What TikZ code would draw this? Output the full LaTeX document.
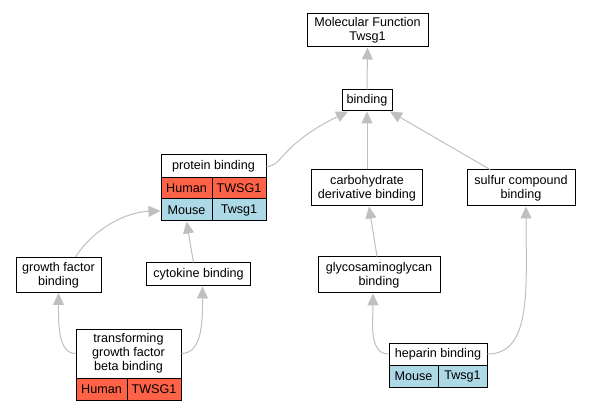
\documentclass[tikz,border=0pt]{standalone}
\usepackage{fontspec}
\setmainfont{Liberation Sans}
\usetikzlibrary{arrows.meta,calc}
\begin{document}
\begin{tikzpicture}[x=1pt,y=-1pt,
  every node/.style={font=\fontsize{12.6}{14}\selectfont},
  box/.style={draw=black,line width=1pt,fill=white,inner sep=0pt,align=center,text=black},
  human/.style={box,fill={rgb,255:red,255;green,99;blue,71}},
  mouse/.style={box,fill={rgb,255:red,173;green,216;blue,230}},
  edge/.style={draw={rgb,255:red,192;green,192;blue,192},line width=1pt,-{Triangle[length=12pt,width=11pt]}}]
\useasboundingbox (0,0) rectangle (591,411);
\fill[white] (0,0) rectangle (591,411);
% nodes
\node[box,minimum width=121pt,minimum height=33pt] (mf) at (367.5,30.5) {Molecular Function\\Twsg1};
\node[box,minimum width=50pt,minimum height=21pt] (bd) at (367,100.5) {binding};
\node[box,minimum width=105pt,minimum height=23pt] (pb) at (213.5,166.5) {protein binding};
\node[human,minimum width=51pt,minimum height=21pt] (pbh1) at (186.5,188.5) {Human};
\node[human,minimum width=54pt,minimum height=21pt] (pbh2) at (239,188.5) {TWSG1};
\node[mouse,minimum width=51pt,minimum height=22pt] (pbm1) at (186.5,210) {Mouse};
\node[mouse,minimum width=54pt,minimum height=22pt] (pbm2) at (239,210) {Twsg1};
\node[box,minimum width=111pt,minimum height=36pt] (cd) at (367,188) {carbohydrate\\derivative binding};
\node[box,minimum width=108pt,minimum height=36pt] (sc) at (521,188) {sulfur compound\\binding};
\node[box,minimum width=122pt,minimum height=36pt] (gl) at (379,275) {glycosaminoglycan\\binding};
\node[box,minimum width=98pt,minimum height=22pt] (hp) at (438,354) {heparin binding};
\node[mouse,minimum width=49pt,minimum height=22pt] (hpm1) at (413.5,376) {Mouse};
\node[mouse,minimum width=49pt,minimum height=22pt] (hpm2) at (462.5,376) {Twsg1};
\node[box,minimum width=85pt,minimum height=35pt] (gf) at (58.5,275) {growth factor\\binding};
\node[box,minimum width=104pt,minimum height=23pt] (ck) at (198.5,274.5) {cytokine binding};
\node[box,minimum width=105pt,minimum height=49pt] (tg) at (128.5,353.5) {transforming\\growth factor\\beta binding};
\node[human,minimum width=51pt,minimum height=22pt] (tgh1) at (101.5,389) {Human};
\node[human,minimum width=54pt,minimum height=22pt] (tgh2) at (154,389) {TWSG1};
% edges
\draw[edge] (bd.north) -- (mf.south);
\draw[edge] (pb.east) .. controls ($(pb.east)+(16,0)$) and ($(pb.east)+(14,-22)$) .. ($(bd.south)+(-19,0)$);
\draw[edge] (cd.north) -- (bd.south);
\draw[edge] ($(sc.north)+(-31,0)$) -- ($(bd.south)+(23,0)$);
\draw[edge] ($(gf.north)+(17,0)$) .. controls ($(gf.north)+(35,-28)$) and ($(pbm1.west)+(-35,2)$) .. ($(pbm1.west)+(0,1)$);
\draw[edge] ($(ck.north)+(-5,0)$) -- ($(pbm1.south)+(0,0)$);
\draw[edge] ($(tg.west)+(0,0)$) .. controls ($(tg.west)+(-18,0)$) and ($(gf.south)+(0,28)$) .. (gf.south);
\draw[edge] ($(tg.east)+(0,0)$) .. controls ($(tg.east)+(22,0)$) and ($(ck.south)+(4,30)$) .. ($(ck.south)+(4,0)$);
\draw[edge] ($(gl.north)+(-2,0)$) -- ($(cd.south)+(2,0)$);
\draw[edge] (hp.west) .. controls ($(hp.west)+(-20,0)$) and ($(gl.south)+(-6,28)$) .. ($(gl.south)+(-6,0)$);
\draw[edge] (hp.east) .. controls ($(hp.east)+(45,0)$) and ($(sc.south)+(5,80)$) .. ($(sc.south)+(5,0)$);
\end{tikzpicture}
\end{document}
